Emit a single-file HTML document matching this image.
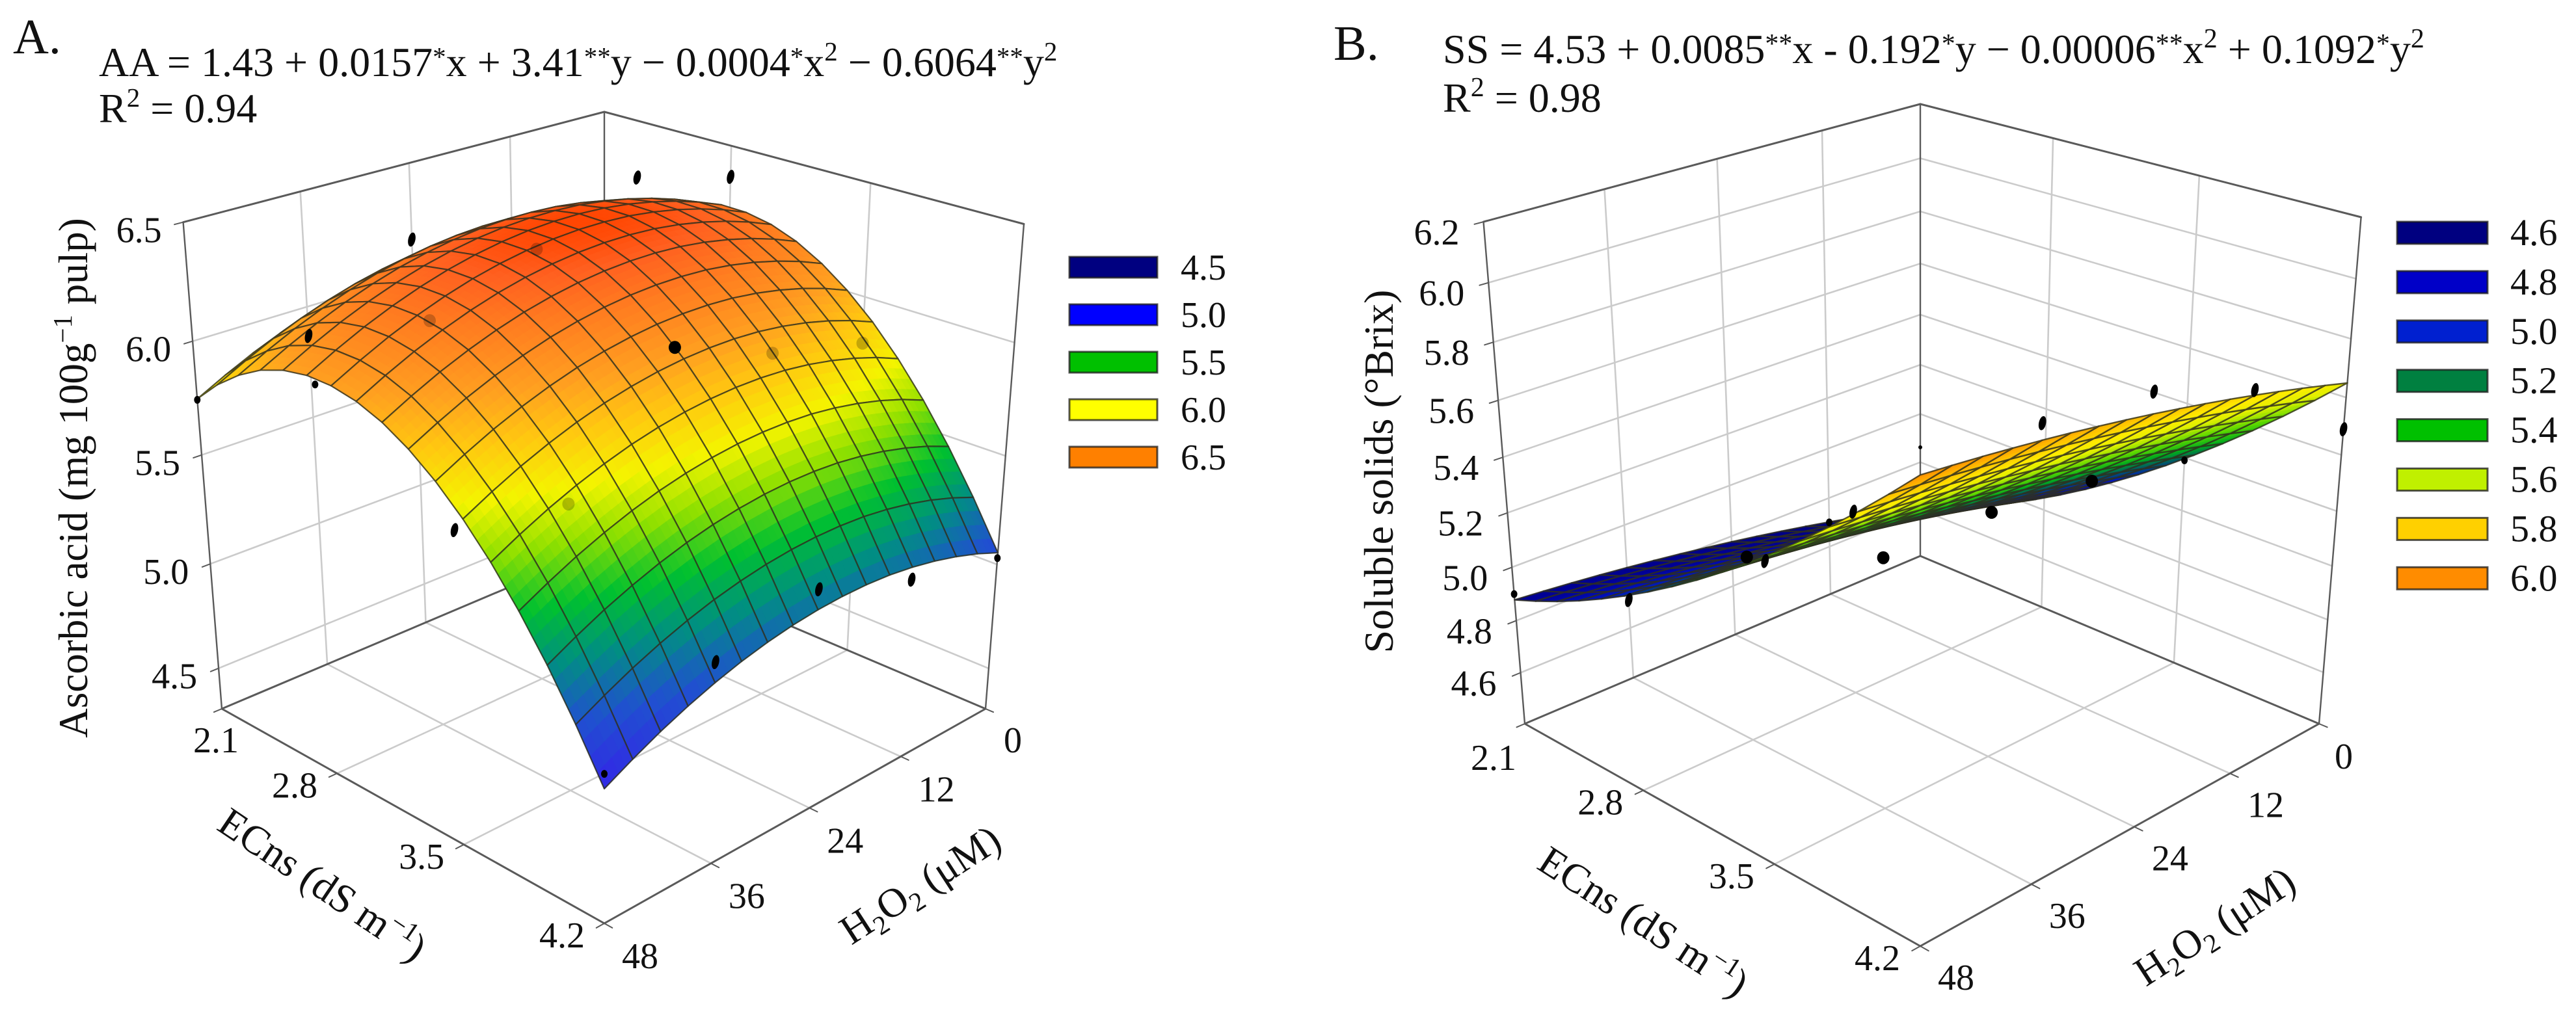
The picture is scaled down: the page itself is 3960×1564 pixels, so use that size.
<!DOCTYPE html>
<html lang="en">
<head>
<meta charset="utf-8">
<title>Ascorbic acid and soluble solids response surfaces</title>
<style>
  html,body{margin:0;padding:0;background:#fff;}
  svg{display:block;}
  text{font-family:"Liberation Serif","Noto Serif CJK SC",serif;fill:#111;}
</style>
</head>
<body>
<svg xmlns="http://www.w3.org/2000/svg" width="3960" height="1564" viewBox="0 0 3960 1564">
  <rect width="3960" height="1564" fill="#fff"/>

  <g id="panel-a"></g>
  <g id="panel-b"></g>

  <!-- Panel A static text -->
  <text x="20" y="82" font-size="76">A.</text>
  <text x="152" y="117" font-size="64">AA = 1.43 + 0.0157<tspan dy="-16" font-size="41">*</tspan><tspan dy="16">x + 3.41</tspan><tspan dy="-16" font-size="41">**</tspan><tspan dy="16">y − 0.0004</tspan><tspan dy="-16" font-size="41">*</tspan><tspan dy="16">x</tspan><tspan dy="-24" font-size="41">2</tspan><tspan dy="24"> − 0.6064</tspan><tspan dy="-16" font-size="41">**</tspan><tspan dy="16">y</tspan><tspan dy="-24" font-size="41">2</tspan></text>
  <text x="152" y="188" font-size="64">R<tspan dy="-24" font-size="41">2</tspan><tspan dy="24"> = 0.94</tspan></text>
  <text transform="translate(134,735) rotate(-90)" text-anchor="middle" font-size="63">Ascorbic acid (mg 100g<tspan dy="-24" font-size="41">−1</tspan><tspan dy="24"> pulp)</tspan></text>
  <text transform="translate(484,1378) rotate(34)" text-anchor="middle" font-size="63">ECns (dS m<tspan dy="-24" font-size="41">−1</tspan><tspan dy="24">)</tspan></text>
  <text transform="translate(1426,1378) rotate(-33)" text-anchor="middle" font-size="63">H<tspan dy="12" font-size="41">2</tspan><tspan dy="-12">O</tspan><tspan dy="12" font-size="41">2</tspan><tspan dy="-12"> (μM)</tspan></text>

  <!-- Panel B static text -->
  <text x="2050" y="92" font-size="76">B.</text>
  <text x="2218" y="97" font-size="64">SS = 4.53 + 0.0085<tspan dy="-16" font-size="42">**</tspan><tspan dy="16">x - 0.192</tspan><tspan dy="-16" font-size="42">*</tspan><tspan dy="16">y − 0.00006</tspan><tspan dy="-16" font-size="42">**</tspan><tspan dy="16">x</tspan><tspan dy="-24" font-size="42">2</tspan><tspan dy="24"> + 0.1092</tspan><tspan dy="-16" font-size="42">*</tspan><tspan dy="16">y</tspan><tspan dy="-24" font-size="42">2</tspan></text>
  <text x="2218" y="172" font-size="64">R<tspan dy="-24" font-size="42">2</tspan><tspan dy="24"> = 0.98</tspan></text>
  <text transform="translate(2141,725) rotate(-90)" text-anchor="middle" font-size="64">Soluble solids (°Brix)</text>
  <text transform="translate(2515,1435) rotate(33)" text-anchor="middle" font-size="63">ECns (dS m<tspan dy="-24" font-size="41">−1</tspan><tspan dy="24">)</tspan></text>
  <text transform="translate(3416,1442) rotate(-33)" text-anchor="middle" font-size="63">H<tspan dy="12" font-size="41">2</tspan><tspan dy="-12">O</tspan><tspan dy="12" font-size="41">2</tspan><tspan dy="-12"> (μM)</tspan></text>
</svg>

<script>
// ---------- shared axis data ----------
const ecTicks = [2.1, 2.8, 3.5, 4.2];
const h2o2Ticks = [0, 12, 24, 36, 48];
const ecMesh = [2.1, 2.23125, 2.3625, 2.49375, 2.625, 2.75625, 2.8875, 3.01875, 3.15, 3.28125, 3.4125, 3.54375, 3.675, 3.80625, 3.9375, 4.06875, 4.2];
const h2o2Mesh = [0, 3, 6, 9, 12, 15, 18, 21, 24, 27, 30, 33, 36, 39, 42, 45, 48];

// ---------- panel A data ----------
const aZTicks = [4.5, 5.0, 5.5, 6.0, 6.5];
const aEcProfile = [5.917, 6.020, 6.101, 6.163, 6.203, 6.222, 6.220, 6.198, 6.155, 6.090, 6.005, 5.899, 5.772, 5.624, 5.455, 5.265, 5.055];
const aH2o2Shift = [0, 0.044, 0.080, 0.109, 0.131, 0.146, 0.153, 0.153, 0.146, 0.132, 0.111, 0.083, 0.047, 0.004, -0.046, -0.104, -0.168];
const aPointEC = [2.1, 2.8, 3.5, 4.2, 2.1, 2.8, 3.5, 4.2, 2.1, 2.8, 3.5, 4.2, 2.8, 3.5, 4.2, 2.8, 3.5, 4.2];
const aPointH2O2 = [48, 48, 48, 48, 36, 36, 36, 36, 24, 24, 24, 24, 12, 12, 12, 0, 0, 0];
const aPointZ = [5.745, 6.03, 5.67, 4.95, 5.87, 6.14, 5.59, 5.19, 6.16, 6.30, 6.08, 5.29, 6.48, 5.90, 5.13, 6.36, 5.79, 5.03];
const aPointKind = ['small', 'small', 'sliver', 'small', 'sliver', 'tint', 'tint', 'sliver', 'sliver', 'tint', 'dot', 'sliver', 'sliver', 'tint', 'sliver', 'sliver', 'tint', 'small'];
const aLegendValues = ['4.5', '5.0', '5.5', '6.0', '6.5'];
const aLegendColors = ['#000080', '#0000ff', '#00c000', '#ffff00', '#ff8000'];
const aStopZ = [4.88, 5.10, 5.20, 5.29, 5.45, 5.62, 5.77, 5.92, 6.05, 6.22, 6.31, 6.38];
const aStopColor = ['#3424e8', '#2050d0', '#1070a8', '#009080', '#00c030', '#90e000', '#f4f400', '#ffc810', '#ffa020', '#ff7a20', '#ff6020', '#ff4400'];

// ---------- panel B data ----------
const bZTicks = [4.6, 4.8, 5.0, 5.2, 5.4, 5.6, 5.8, 6.0, 6.2];
const bEcProfile = [4.6084, 4.6453, 4.6859, 4.7303, 4.7785, 4.8304, 4.8861, 4.9455, 5.0087, 5.0757, 5.1465, 5.2210, 5.2992, 5.3812, 5.4670, 5.5566, 5.6499];
const bH2o2Shift = [0, 0.0250, 0.0488, 0.0716, 0.0934, 0.1140, 0.1336, 0.1520, 0.1694, 0.1858, 0.2010, 0.2152, 0.2282, 0.2402, 0.2512, 0.2610, 0.2698];
const bPointEC = [2.1, 2.1, 2.8, 3.5, 2.1, 2.8, 3.5, 4.2, 3.5, 4.2, 3.5, 4.2, 3.5, 4.2, 4.2];
const bPointH2O2 = [48, 36, 36, 48, 12, 24, 36, 48, 24, 36, 12, 24, 0, 12, 0];
const bPointZ = [4.90, 4.71, 5.09, 5.45, 4.70, 5.10, 5.30, 6.00, 5.30, 5.93, 5.26, 5.89, 5.19, 5.76, 5.49];
const bPointKind = ['small', 'sliver', 'dot', 'sliver', 'small', 'sliver', 'dot', 'tiny', 'dot', 'sliver', 'dot', 'sliver', 'small', 'sliver', 'sliver'];
const bLegendValues = ['4.6', '4.8', '5.0', '5.2', '5.4', '5.6', '5.8', '6.0'];
const bLegendColors = ['#000080', '#0000c8', '#0020d0', '#008040', '#00c000', '#c0f000', '#ffd000', '#ff8c00'];
const bStopZ = [4.60, 4.90, 5.05, 5.20, 5.32, 5.45, 5.60, 5.70, 5.82, 5.95];
const bStopColor = ['#000070', '#000096', '#0014be', '#005a64', '#00aa1e', '#5ad700', '#e1f000', '#ffeb00', '#ffbe00', '#ff8200'];

// ---------- panel geometry (layout only) ----------
const panelA = {
  root: 'panel-a', prefix: 'a',
  back: [929, 841], right: [1515, 1090], front: [929, 1420], left: [341, 1090], topBack: 172, vanishY: 8500,
  zMin: 4.3, zMax: 6.5, zTicks: aZTicks, zFormat: 1,
  zOffset: [-68, 12], ecOffset: [-65, 18], ecFirstOffset: [-9, 48], hOffset: [55, 50], hFirstOffset: [42, 48],
  ecProfile: aEcProfile, hShift: aH2o2Shift,
  ptEC: aPointEC, ptH: aPointH2O2, ptZ: aPointZ, ptKind: aPointKind,
  stopZ: aStopZ, stopColor: aStopColor,
  legendValues: aLegendValues, legendColors: aLegendColors,
  legendX: 1644, legendY: 395, legendW: 135, legendH: 32, legendPitch: 73, legendFont: 56, legendTextX: 1815, meshWidth: 2.2
};
const panelB = {
  root: 'panel-b', prefix: 'b',
  back: [2952, 855], right: [3565, 1113], front: [2952, 1455], left: [2344, 1113], topBack: 160, vanishY: 8500,
  zMin: 4.4, zMax: 6.2, zTicks: bZTicks, zFormat: 1,
  zOffset: [-72, 16], ecOffset: [-66, 18], ecFirstOffset: [-48, 52], hOffset: [55, 48], hFirstOffset: [38, 50],
  ecProfile: bEcProfile, hShift: bH2o2Shift,
  ptEC: bPointEC, ptH: bPointH2O2, ptZ: bPointZ, ptKind: bPointKind,
  stopZ: bStopZ, stopColor: bStopColor,
  legendValues: bLegendValues, legendColors: bLegendColors,
  legendX: 3685, legendY: 341, legendW: 139, legendH: 34, legendPitch: 75.9, legendFont: 58, legendTextX: 3859, meshWidth: 2.4
};

const SVGNS = 'http://www.w3.org/2000/svg';
const TICK_FONT = 56;

function makeEl(parent, tag) {
  const el = document.createElementNS(SVGNS, tag);
  parent.appendChild(el);
  return el;
}

function makeProjector(c) {
  const [x0, y0] = c.back, [x1, y1] = c.right, [x2, y2] = c.front, [x3, y3] = c.left;
  const dx1 = x1 - x2, dx2 = x3 - x2, sx = x0 - x1 + x2 - x3;
  const dy1 = y1 - y2, dy2 = y3 - y2, sy = y0 - y1 + y2 - y3;
  const den = dx1 * dy2 - dx2 * dy1;
  const g = (sx * dy2 - dx2 * sy) / den;
  const h = (dx1 * sy - sx * dy1) / den;
  const a = x1 - x0 + g * x1, b = x3 - x0 + h * x3;
  const d = y1 - y0 + g * y1, e = y3 - y0 + h * y3;
  const k = (y0 - c.topBack) / (c.topBack - c.vanishY);
  return function (u, v, w) {
    const W = 1 + g * u + h * v + w * k;
    return [
      (a * u + b * v + x0 + w * k * x0) / W,
      (d * u + e * v + y0 + w * k * c.vanishY) / W
    ];
  };
}

function hexToRgb(hex) {
  return [parseInt(hex.slice(1, 3), 16), parseInt(hex.slice(3, 5), 16), parseInt(hex.slice(5, 7), 16)];
}

function colorFor(z, stopZ, stopColor) {
  if (z <= stopZ[0]) return stopColor[0];
  for (let i = 1; i < stopZ.length; i++) {
    if (z <= stopZ[i]) {
      const t = (z - stopZ[i - 1]) / (stopZ[i] - stopZ[i - 1]);
      const p = hexToRgb(stopColor[i - 1]), q = hexToRgb(stopColor[i]);
      return 'rgb(' + Math.round(p[0] + (q[0] - p[0]) * t) + ',' + Math.round(p[1] + (q[1] - p[1]) * t) + ',' + Math.round(p[2] + (q[2] - p[2]) * t) + ')';
    }
  }
  return stopColor[stopColor.length - 1];
}

function drawPanel(c) {
  const root = document.getElementById(c.root);
  const project = makeProjector(c);
  const uOf = ec => (ec - ecTicks[0]) / (ecTicks[ecTicks.length - 1] - ecTicks[0]);
  const vOf = h => h / h2o2Ticks[h2o2Ticks.length - 1];
  const wOf = z => (z - c.zMin) / (c.zMax - c.zMin);

  function segment(parent, p, q, color, width, name) {
    const ln = makeEl(parent, 'line');
    
    
    ln.setAttribute('x1', p[0].toFixed(1));
    ln.setAttribute('y1', p[1].toFixed(1));
    ln.setAttribute('x2', q[0].toFixed(1));
    ln.setAttribute('y2', q[1].toFixed(1));
    ln.setAttribute('stroke', color);
    ln.setAttribute('stroke-width', width);
    ln.setAttribute('stroke-linecap', 'round');
    return ln;
  }

  function label(parent, x, y, str, size, anchor, name) {
    const t = makeEl(parent, 'text');
    
    
    t.setAttribute('x', x.toFixed(1));
    t.setAttribute('y', y.toFixed(1));
    t.setAttribute('font-size', size);
    t.setAttribute('text-anchor', anchor);
    t.textContent = str;
    return t;
  }

  const GRID = '#cbcbcb', FRAME = '#5a5a5a';

  // grids
  const grid = makeEl(root, 'g');
  
  
  c.zTicks.forEach(z => {
    const w = wOf(z);
    segment(grid, project(0, 1, w), project(0, 0, w), GRID, 2.6, 'left-wall-gridline');
    segment(grid, project(0, 0, w), project(1, 0, w), GRID, 2.6, 'right-wall-gridline');
  });
  h2o2Ticks.slice(1, -1).forEach(h => {
    const v = vOf(h);
    segment(grid, project(0, v, 0), project(0, v, 1), GRID, 2.6, 'left-wall-vertical-gridline');
    segment(grid, project(0, v, 0), project(1, v, 0), GRID, 2.6, 'floor-gridline');
  });
  ecTicks.slice(1, -1).forEach(ec => {
    const u = uOf(ec);
    segment(grid, project(u, 0, 0), project(u, 0, 1), GRID, 2.6, 'right-wall-vertical-gridline');
    segment(grid, project(u, 0, 0), project(u, 1, 0), GRID, 2.6, 'floor-gridline');
  });

  // frame
  const frame = makeEl(root, 'g');
  
  
  const corners = [
    [[0, 1, 0], [1, 1, 0], 3], [[1, 1, 0], [1, 0, 0], 3],
    [[0, 1, 0], [0, 0, 0], 3], [[0, 0, 0], [1, 0, 0], 3],
    [[0, 1, 1], [0, 0, 1], 3], [[0, 0, 1], [1, 0, 1], 3],
    [[0, 1, 0], [0, 1, 1], 2.4], [[1, 0, 0], [1, 0, 1], 2.4], [[0, 0, 0], [0, 0, 1], 2.4]
  ];
  corners.forEach(e => {
    segment(frame, project(e[0][0], e[0][1], e[0][2]), project(e[1][0], e[1][1], e[1][2]), FRAME, e[2], 'axis-frame-edge');
  });

  // ticks + labels
  const axes = makeEl(root, 'g');
  
  
  c.zTicks.forEach(z => {
    const w = wOf(z);
    const p = project(0, 1, w);
    segment(axes, p, project(0, 1.018, w), FRAME, 2, 'z-axis-tick');
    label(axes, p[0] + c.zOffset[0], p[1] + c.zOffset[1] + 19, z.toFixed(c.zFormat), TICK_FONT, 'middle', 'z-axis-tick-label');
  });
  ecTicks.forEach((ec, i) => {
    const u = uOf(ec);
    const p = project(u, 1, 0);
    const off = i === 0 ? c.ecFirstOffset : c.ecOffset;
    segment(axes, p, project(u, 1.018, 0), FRAME, 2, 'ec-axis-tick');
    label(axes, p[0] + off[0], p[1] + off[1] + 19, ec.toFixed(1), TICK_FONT, 'middle', 'ec-axis-tick-label');
  });
  h2o2Ticks.forEach((h, i) => {
    const v = vOf(h);
    const p = project(1, v, 0);
    const off = i === 0 ? c.hFirstOffset : c.hOffset;
    segment(axes, p, project(1.018, v, 0), FRAME, 2, 'h2o2-axis-tick');
    label(axes, p[0] + off[0], p[1] + off[1] + 19, String(h), TICK_FONT, 'middle', 'h2o2-axis-tick-label');
  });

  function drawPoint(parent, idx, mode) {
    const kind = c.ptKind[idx];
    const p = project(uOf(c.ptEC[idx]), vOf(c.ptH[idx]), wOf(c.ptZ[idx]));
    const dot = makeEl(parent, 'ellipse');
    
    
    let rx = 9.5, ry = 10;
    if (kind === 'sliver') { rx = 5.5; ry = 11; }
    if (kind === 'small') { rx = 5; ry = 6; }
    if (kind === 'tiny') { rx = 3; ry = 3; }
    dot.setAttribute('cx', p[0].toFixed(1));
    dot.setAttribute('cy', p[1].toFixed(1));
    dot.setAttribute('rx', rx);
    dot.setAttribute('ry', ry);
    dot.setAttribute('transform', 'rotate(' + (kind === 'sliver' ? 12 : 0) + ' ' + p[0].toFixed(1) + ' ' + p[1].toFixed(1) + ')');
    dot.setAttribute('fill', '#000');
    if (mode === 'ghost') dot.setAttribute('fill-opacity', '0.22');
  }

  // points that lie behind the surface
  const behind = makeEl(root, 'g');
  
  
  c.ptKind.forEach((kind, idx) => {
    if (kind === 'tint') drawPoint(behind, idx, 'solid');
  });

  // fitted surface, painted from the far corner toward the near corner
  const surface = makeEl(root, 'g');
  
  
  const zAt = (i, j) => c.ecProfile[i] + c.hShift[j];
  const uAt = i => uOf(ecMesh[i]);
  const vAt = j => vOf(h2o2Mesh[j]);
  const cells = [];
  for (let i = 0; i < ecMesh.length - 1; i++) {
    for (let j = 0; j < h2o2Mesh.length - 1; j++) cells.push([i, j]);
  }
  cells.sort((m, n) => (m[0] + m[1]) - (n[0] + n[1]));
  const SUB = 4;
  cells.forEach(cell => {
    const i = cell[0], j = cell[1];
    const u0 = uAt(i), u1 = uAt(i + 1), v0 = vAt(j), v1 = vAt(j + 1);
    const z00 = zAt(i, j), z10 = zAt(i + 1, j), z01 = zAt(i, j + 1), z11 = zAt(i + 1, j + 1);
    const zBi = (s, t) => z00 * (1 - s) * (1 - t) + z10 * s * (1 - t) + z01 * (1 - s) * t + z11 * s * t;
    const pt = (s, t) => project(u0 + (u1 - u0) * s, v0 + (v1 - v0) * t, wOf(zBi(s, t)));
    for (let a = 0; a < SUB; a++) {
      for (let b = 0; b < SUB; b++) {
        const s0 = a / SUB, s1 = (a + 1) / SUB, t0 = b / SUB, t1 = (b + 1) / SUB;
        const col = colorFor(zBi((s0 + s1) / 2, (t0 + t1) / 2), c.stopZ, c.stopColor);
        const facet = makeEl(surface, 'polygon');
        
        
        facet.setAttribute('points', [pt(s0, t0), pt(s1, t0), pt(s1, t1), pt(s0, t1)].map(q => q[0].toFixed(1) + ',' + q[1].toFixed(1)).join(' '));
        facet.setAttribute('fill', col);
        facet.setAttribute('stroke', col);
        facet.setAttribute('stroke-width', '0.8');
      }
    }
    const outline = makeEl(surface, 'polygon');
    
    
    outline.setAttribute('points', [pt(0, 0), pt(1, 0), pt(1, 1), pt(0, 1)].map(q => q[0].toFixed(1) + ',' + q[1].toFixed(1)).join(' '));
    outline.setAttribute('fill', 'none');
    outline.setAttribute('stroke', '#2f2f1e');
    outline.setAttribute('stroke-opacity', '0.8');
    outline.setAttribute('stroke-width', c.meshWidth);
    outline.setAttribute('stroke-linejoin', 'round');
  });

  // points seen in front of / through the surface
  const front = makeEl(root, 'g');
  
  
  c.ptKind.forEach((kind, idx) => {
    drawPoint(front, idx, kind === 'tint' ? 'ghost' : 'solid');
  });

  // legend
  const legend = makeEl(root, 'g');
  
  
  c.legendValues.forEach((val, i) => {
    const y = c.legendY + i * c.legendPitch;
    const box = makeEl(legend, 'rect');
    
    
    box.setAttribute('x', c.legendX);
    box.setAttribute('y', y);
    box.setAttribute('width', c.legendW);
    box.setAttribute('height', c.legendH);
    box.setAttribute('fill', c.legendColors[i]);
    box.setAttribute('stroke', '#1c1c1c');
    box.setAttribute('stroke-opacity', '0.75');
    box.setAttribute('stroke-width', '3');
    label(legend, c.legendTextX, y + c.legendH / 2 + 19, val, c.legendFont, 'start', 'legend-label');
  });
}

drawPanel(panelA);
drawPanel(panelB);
</script>
</body>
</html>
